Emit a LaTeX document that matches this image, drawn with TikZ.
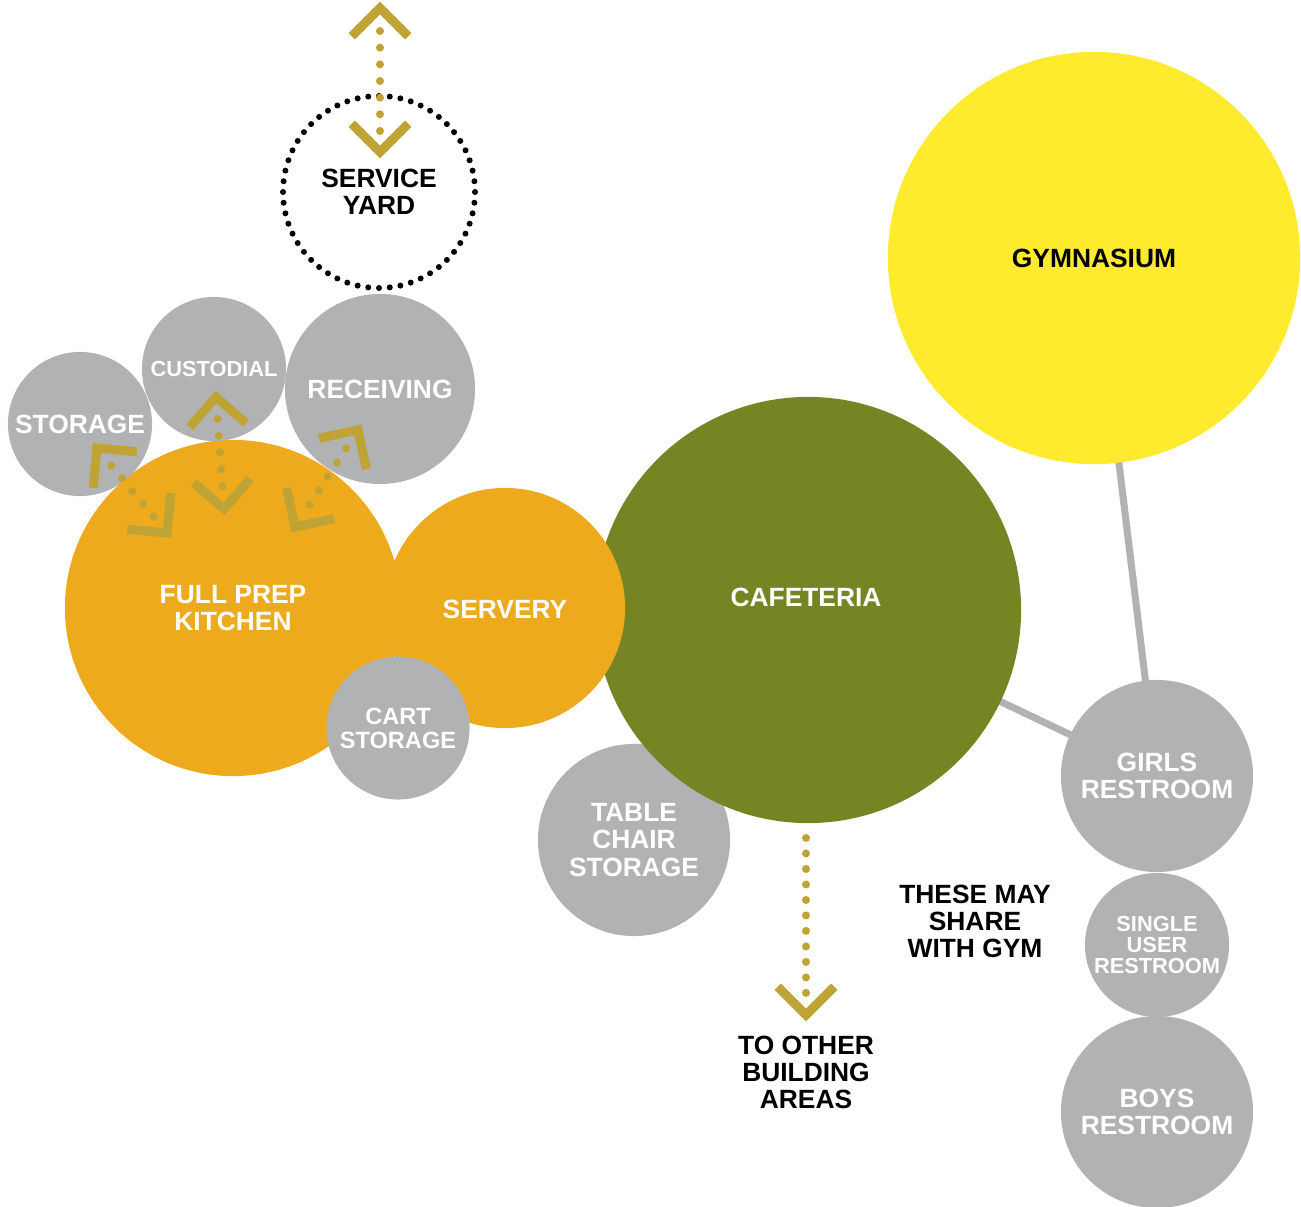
\documentclass[tikz,border=0pt]{standalone}
\usepackage{fontspec}
\setmainfont{Liberation Sans}
\usetikzlibrary{calc,backgrounds}

\definecolor{roomgray}{RGB}{177,178,180}
\definecolor{kitchenorange}{RGB}{237,170,28}
\definecolor{cafeolive}{RGB}{119,132,35}
\definecolor{gymyellow}{RGB}{255,235,45}
\definecolor{arrowgold}{RGB}{191,163,53}

% chevron: apex, direction it points to (y runs downward)
\newcommand{\chevron}[2]{\draw[chev] ($(#1)+(#2+135:40)$) -- (#1) -- ($(#1)+(#2-135:40)$);}
% dots between two points, from fraction #3 to #4 in #5 steps
\newcommand{\dotrun}[5]{%
  \foreach \i in {0,...,#5} {
    \pgfmathsetmacro{\dotpos}{#3+(#4-#3)*\i/#5}
    \fill[arrowgold] ($(#1)!\dotpos!(#2)$) circle (4);
  }}

\tikzset{
  big/.style={font=\bfseries\fontsize{7.5}{7.7}\selectfont},
  small/.style={font=\bfseries\fontsize{6.2}{6.1}\selectfont},
  room/.style={circle, inner sep=0pt, align=center, text=white, big},
  note/.style={align=center, text=black, big},
  link/.style={roomgray, line width=2pt},
  chev/.style={arrowgold, line width=0.9mm, miter limit=10}
}

\begin{document}
\begin{tikzpicture}[x=0.01cm, y=-0.01cm]
  \useasboundingbox (0,0) rectangle (1301,1207);

  % big rooms
  \node[room, fill=gymyellow, text=black, minimum size=4.12cm] (gym) at (1094,258) {GYMNASIUM};
  \node[room, fill=roomgray, minimum size=1.92cm] (tablestore) at (634,840) {TABLE\\CHAIR\\STORAGE};
  \node[room, fill=cafeolive, minimum size=4.26cm] (cafeteria) at (808,610) {};
  \node[room] (cafelabel) at (806,597) {CAFETERIA};

  % kitchen group
  \node[room, fill=kitchenorange, minimum size=3.36cm] (kitchen) at (233,608) {FULL PREP\\KITCHEN};
  \node[room, fill=kitchenorange, minimum size=2.4cm] (servery) at (505,608) {\phantom{SERVERY}};
  \node[room] (serverylabel) at (505,609) {SERVERY};
  \node[room, fill=roomgray, minimum size=1.43cm, font=\bfseries\fontsize{6.7}{6.8}\selectfont] (cartstore) at (398,728) {CART\\STORAGE};
  \node[room, fill=roomgray, minimum size=1.44cm] (storage) at (80,424) {STORAGE};
  \node[room, fill=roomgray, minimum size=1.44cm, small] (custodial) at (214,369) {CUSTODIAL};
  \node[room, fill=roomgray, minimum size=1.9cm] (receiving) at (380,389) {RECEIVING};
  \node[room, text=black, minimum size=1.92cm] (yard) at (379,192) {SERVICE\\YARD};

  % dotted outline of the yard
  \foreach \k in {0,...,55}
    \fill ($(yard)+(\k*6.4286:96)$) circle (3);

  % restrooms
  \node[room, fill=roomgray, minimum size=1.92cm] (girls) at (1157,776) {GIRLS\\RESTROOM};
  \node[room, fill=roomgray, minimum size=1.44cm, small] (single) at (1157,945) {SINGLE\\USER\\RESTROOM};
  \node[room, fill=roomgray, minimum size=1.92cm] (boys) at (1157,1112) {BOYS\\RESTROOM};

  \begin{scope}[on background layer]
    \draw[link] (gym.center) -- (girls.center);
    \draw[link] (cafeteria.center) -- (girls.center);
  \end{scope}

  % notes
  \node[note] (sharenote) at (975,921) {THESE MAY\\SHARE\\WITH GYM};
  \node[note] (exitnote) at (806,1072) {TO OTHER\\BUILDING\\AREAS};

  % arrow ends
  \coordinate (yardtip) at (380,8);
  \coordinate (yardend) at (380,152);
  \coordinate (storetip) at (97,448);
  \coordinate (storeend) at (167,533);
  \coordinate (custtip) at (216,397);
  \coordinate (custend) at (224,509);
  \coordinate (recvtip) at (358,430);
  \coordinate (recvend) at (295,527);
  \coordinate (exitstart) at (806,823);
  \coordinate (exittip) at (806,1015);

  % arrows
  \chevron{yardtip}{270} \chevron{yardend}{90}
  \dotrun{yardtip}{yardend}{0.16}{0.854}{6}
  \chevron{storetip}{230.5} \chevron{storeend}{50.5}
  \dotrun{storetip}{storeend}{0.206}{0.808}{4}
  \chevron{custtip}{266} \chevron{custend}{86}
  \dotrun{custtip}{custend}{0.196}{0.795}{4}
  \chevron{recvtip}{303} \chevron{recvend}{123}
  \dotrun{recvtip}{recvend}{0.19}{0.77}{4}
  \chevron{exittip}{90}
  \dotrun{exitstart}{exittip}{0.078}{0.885}{10}
\end{tikzpicture}
\end{document}
